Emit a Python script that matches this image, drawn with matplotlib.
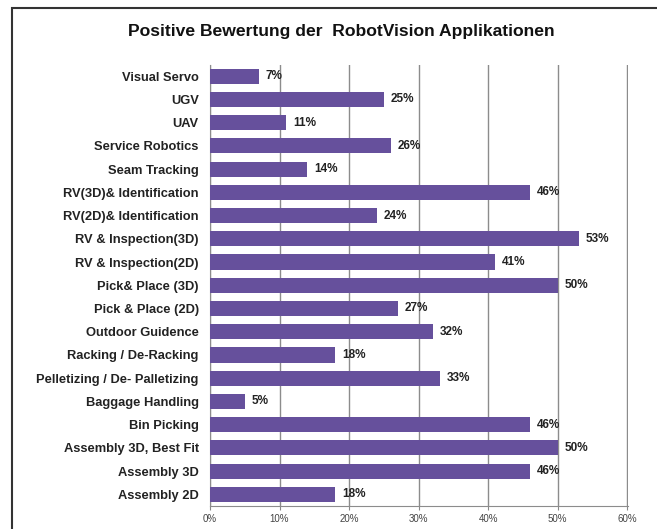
import matplotlib
matplotlib.use('Agg')
import matplotlib.pyplot as plt
from matplotlib.patches import Rectangle

plt.rcParams['font.family'] = ['Liberation Sans', 'DejaVu Sans']

# Daten (von oben nach unten)
kategorien = ['Visual Servo', 'UGV', 'UAV', 'Service Robotics', 'Seam Tracking',
              'RV(3D)& Identification', 'RV(2D)& Identification',
              'RV & Inspection(3D)', 'RV & Inspection(2D)', 'Pick& Place (3D)',
              'Pick & Place (2D)', 'Outdoor Guidence', 'Racking / De-Racking',
              'Pelletizing / De- Palletizing', 'Baggage Handling', 'Bin Picking',
              'Assembly 3D, Best Fit', 'Assembly 3D', 'Assembly 2D']
werte = [7, 25, 11, 26, 14, 46, 24, 53, 41, 50, 27, 32, 18, 33, 5, 46, 50, 46, 18]
x_ticks = [0, 10, 20, 30, 40, 50, 60]

fig = plt.figure(figsize=(6.57, 5.29), dpi=100)
ax = fig.add_axes([0.3196, 0.0435, 0.6363, 0.8345])

y = list(range(len(kategorien)))
ax.barh(y, werte, height=0.65, color='#66509c', zorder=3)
for yi, v in zip(y, werte):
    ax.text(v + 1.0, yi, f'{v}%', va='center', ha='left', fontsize=8.5,
            fontweight='bold', color='#222222')

ax.set_yticks(y)
ax.set_yticklabels(kategorien, fontsize=9.3, fontweight='bold', color='#222222')
ax.set_ylim(len(kategorien) - 0.5, -0.5)
ax.set_xlim(0, 60.1)
ax.set_xticks(x_ticks)
ax.set_xticklabels([f'{t}%' for t in x_ticks], fontsize=7, color='#444444')
ax.tick_params(axis='y', length=0, pad=8)
ax.tick_params(axis='x', length=3, color='#888888', pad=3)

ax.grid(True, axis='x', color='#8c8c8c', linewidth=1.0, zorder=0)
for s in ['top', 'right']:
    ax.spines[s].set_visible(False)
for s in ['left', 'bottom']:
    ax.spines[s].set_color('#8c8c8c')

fig.text(0.519, 0.941, 'Positive Bewertung der  RobotVision Applikationen',
         ha='center', va='center', fontsize=12.6, fontweight='bold', color='#111111')

# Rahmen
fig.patches.append(Rectangle((12 / 657, -0.1), 1.2, 1.1 - 8 / 529,
                             transform=fig.transFigure, fill=False,
                             edgecolor='#333333', linewidth=1.5))

fig.savefig('out.png', dpi=100)
